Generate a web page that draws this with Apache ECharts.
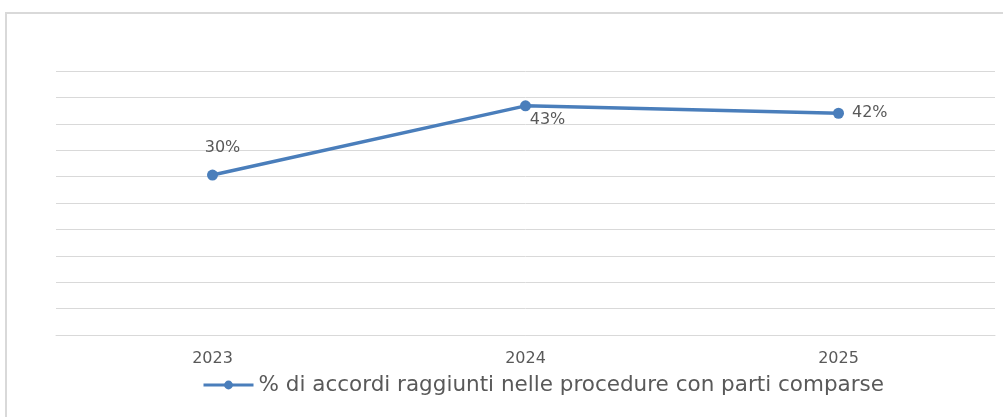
<!DOCTYPE html>
<html lang="it">
<head>
    <meta charset="UTF-8">
    <title>Accordi raggiunti</title>
    <style>
        html, body { margin: 0; padding: 0; background: #fff; }
        #frame {
            position: absolute; left: 5px; top: 12px; width: 1010px; height: 420px;
            border: 2px solid #d9d9d9; box-sizing: border-box;
        }
        #main { position: absolute; left: 0; top: 0; width: 1003px; height: 417px; }
    </style>
</head>
<body>
<div id="frame"></div>
<div id="main"></div>
<script src="https://cdn.jsdelivr.net/npm/echarts@6/dist/echarts.min.js"></script>
<script>
    var years = ['2023', '2024', '2025'];
    var accordi = [30.3, 43.4, 42.0];
    var labelPos = ['top', 'bottom', 'right'];
    var labelShift = [[10, -6], [22, -8], [0, 0]];
    var serieName = '% di accordi raggiunti nelle procedure con parti comparse';

    var points = [];
    for (var i = 0; i < accordi.length; i++) {
        points.push({
            value: accordi[i],
            label: { position: labelPos[i], offset: labelShift[i] }
        });
    }

    var myChart = echarts.init(document.getElementById('main'));
    var option = {
        animation: false,
        textStyle: { fontFamily: 'DejaVu Sans' },
        grid: { left: 56, right: 8, top: 71, bottom: 82 },
        legend: {
            bottom: 16,
            left: 197,
            itemWidth: 50,
            itemHeight: 11,
            itemGap: 4,
            lineStyle: { width: 3 },
            textStyle: { fontSize: 21.5, color: '#595959', fontFamily: 'DejaVu Sans' },
            data: [serieName]
        },
        xAxis: {
            type: 'category',
            data: years,
            boundaryGap: true,
            axisLine: { lineStyle: { color: '#d9d9d9' } },
            axisTick: { show: false },
            axisLabel: { color: '#595959', fontSize: 16, margin: 16 }
        },
        yAxis: {
            type: 'value',
            min: 0,
            max: 50,
            interval: 5,
            axisLabel: { show: false },
            axisLine: { show: false },
            axisTick: { show: false },
            splitLine: { lineStyle: { color: '#d9d9d9', width: 1 } }
        },
        series: [{
            name: serieName,
            type: 'line',
            data: points,
            symbol: 'circle',
            symbolSize: 11,
            color: '#4a7ebb',
            lineStyle: { width: 3.5, color: '#4a7ebb' },
            label: {
                show: true,
                color: '#595959',
                fontSize: 16,
                distance: 8,
                formatter: function (p) { return Math.round(p.value) + '%'; }
            }
        }]
    };
    myChart.setOption(option);
</script>
</body>
</html>
